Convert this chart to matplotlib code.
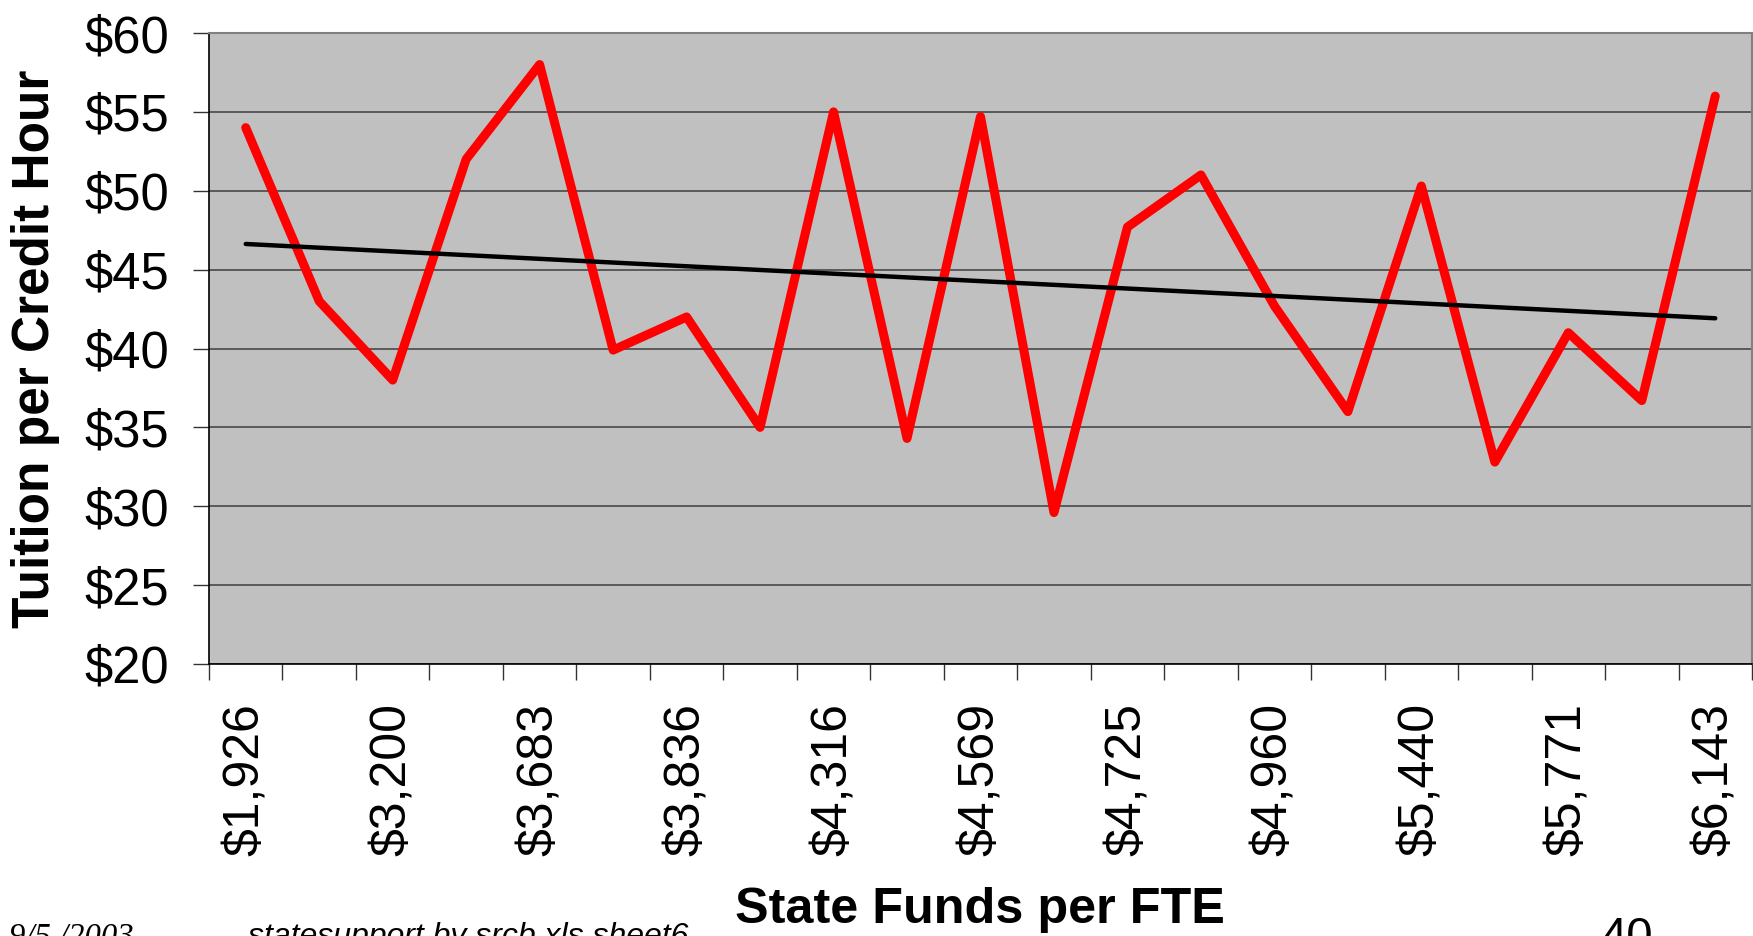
import numpy as np
import matplotlib
matplotlib.use("Agg")
import matplotlib.pyplot as plt

# Data
categories = list(range(1, 22))
tuition = [54.0, 43.0, 38.0, 52.0, 58.0, 39.9, 42.0, 35.0, 55.0, 34.3, 54.7,
           29.6, 47.7, 51.0, 42.7, 36.0, 50.3, 32.8, 41.0, 36.7, 56.0]
shown_labels = ["$1,926", "$3,200", "$3,683", "$3,836", "$4,316", "$4,569",
                "$4,725", "$4,960", "$5,440", "$5,771", "$6,143"]
y_ticks = [20, 25, 30, 35, 40, 45, 50, 55, 60]

plt.rcParams['font.family'] = ['Liberation Sans', 'DejaVu Sans']

W, H = 1753, 936
fig = plt.figure(figsize=(W / 100, H / 100), dpi=100)
ax = fig.add_axes([209 / W, 1 - 664 / H, (1752 - 209) / W, (664 - 33) / H])
ax.set_facecolor('#C0C0C0')

x = np.array(categories)
y = np.array(tuition)
ax.plot(x, y, color='#FF0000', lw=6.5, solid_capstyle='round',
        solid_joinstyle='round', zorder=3)

# Linear trend line
m, b = np.polyfit(x, y, 1)
ax.plot([x[0], x[-1]], [m * x[0] + b, m * x[-1] + b], color='black', lw=3.2,
        solid_capstyle='round', zorder=4)

ax.set_xlim(0.5, 21.5)
ax.set_ylim(20, 60)
ax.set_yticks(y_ticks)
ax.set_yticklabels([f"${v}" for v in y_ticks], fontsize=36.5)
ax.tick_params(axis='y', direction='out', length=11.5, width=1, pad=17,
               color='#333333')
ax.yaxis.grid(True, color='#5a5a5a', lw=1.4)
ax.set_axisbelow(True)

# Major ticks at category boundaries (no labels)
ax.set_xticks(np.arange(0.5, 22, 1))
ax.set_xticklabels([])
ax.tick_params(axis='x', which='major', direction='out', length=11.5,
               width=1, color='#333333')
# Minor ticks at every other category centre carry labels
ax.set_xticks(categories[::2], minor=True)
ax.set_xticklabels(shown_labels, minor=True, rotation=90, fontsize=36,
                   va='top', ha='center')
ax.tick_params(axis='x', which='minor', length=0, pad=28)

for s in ['top', 'right']:
    ax.spines[s].set_color('#808080')
    ax.spines[s].set_linewidth(1.5)
for s in ['left', 'bottom']:
    ax.spines[s].set_color('black')
    ax.spines[s].set_linewidth(1.2)

fig.text(36 / W, 1 - 349 / H, "Tuition per Credit Hour", rotation=90,
         fontsize=37, fontweight='bold', ha='center', va='center')
fig.text(980 / W, 1 - 923 / H, "State Funds per FTE", fontsize=36.3,
         fontweight='bold', ha='center', va='baseline')

# Footer texts (clipped by the figure edge in the reference)
fig.text(9 / W, 1 - 946 / H, "9/5 /2003", fontsize=23.5, style='italic',
         family=['Liberation Serif', 'DejaVu Serif'], ha='left', va='baseline')
fig.text(248 / W, 1 - 945 / H, "statesupport by srcb.xls sheet6", fontsize=23,
         style='italic', ha='left', va='baseline')
fig.text(1601 / W, 1 - 950 / H, "40", fontsize=34, ha='left', va='baseline')

fig.savefig("out.png", dpi=100)
